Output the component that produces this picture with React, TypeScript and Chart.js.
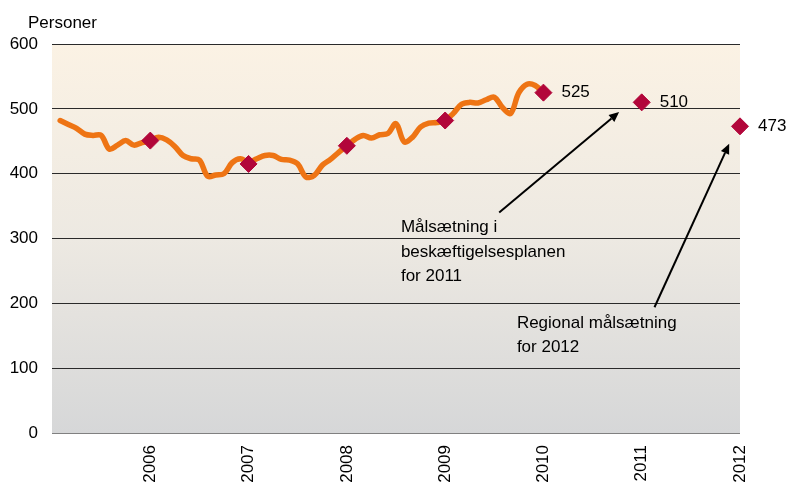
import React, { useEffect, useRef } from 'react';
import { Chart, registerables } from 'chart.js';

Chart.register(...registerables);

// Monthly observations, month index counted from January 2005 (index / 12 added to 2005)
const monthIndex = [
  1, 2, 3, 4, 5, 6, 7, 8, 9, 10, 11, 12,
  13, 14, 15, 16, 17, 18, 19, 20, 21, 22, 23, 24,
  25, 26, 27, 28, 29, 30, 31, 32, 33, 34, 35, 36,
  37, 38, 39, 40, 41, 42, 43, 44, 45, 46, 47, 48,
  49, 50, 51, 52, 53, 54, 55, 56, 57, 58, 59, 60,
];
const personer = [
  482, 476, 470, 461, 459, 459, 438, 444, 451, 444, 448, 451,
  456, 452, 442, 428, 423, 421, 396, 398, 400, 417, 423, 418,
  423, 428, 428, 422, 421, 415, 395, 397, 413, 422, 433, 443,
  453, 459, 455, 460, 462, 477, 449, 456, 472, 478, 479, 482,
  493, 507, 510, 509, 514, 518, 502, 493, 525, 538, 536, 525,
];

const markerYears = [2006, 2007, 2008, 2009, 2010, 2011, 2012];
const markerValues = [451, 415, 443, 482, 525, 510, 473];
const labeledYears = [2010, 2011, 2012];
const labeledValues = [525, 510, 473];

const yTickValues = [0, 100, 200, 300, 400, 500, 600];
const xTickYears = [2006, 2007, 2008, 2009, 2010, 2011, 2012];

const yAxisTitle = 'Personer';
const note2011Lines = ['Målsætning i', 'beskæftigelsesplanen', 'for 2011'];
const note2011Anchor = [2008.55, 317];
const arrow2011 = [2009.55, 340, 2010.77, 495];
const note2012Lines = ['Regional målsætning', 'for 2012'];
const note2012Anchor = [2009.73, 169];
const arrow2012 = [2011.13, 194, 2011.89, 446];

const FONT = '"Liberation Sans", Arial, sans-serif';

function drawArrow(ctx: CanvasRenderingContext2D, x1: number, y1: number, x2: number, y2: number) {
  const ang = Math.atan2(y2 - y1, x2 - x1);
  const head = 10;
  const hw = 4.5;
  const bx = x2 - head * Math.cos(ang);
  const by = y2 - head * Math.sin(ang);
  ctx.beginPath();
  ctx.moveTo(x1, y1);
  ctx.lineTo(bx, by);
  ctx.lineWidth = 2;
  ctx.strokeStyle = '#000';
  ctx.stroke();
  ctx.beginPath();
  ctx.moveTo(x2, y2);
  ctx.lineTo(bx + hw * Math.sin(ang), by - hw * Math.cos(ang));
  ctx.lineTo(bx - hw * Math.sin(ang), by + hw * Math.cos(ang));
  ctx.closePath();
  ctx.fillStyle = '#000';
  ctx.fill();
}

const decorPlugin = {
  id: 'decor',
  beforeDraw(chart: any) {
    const { ctx, chartArea } = chart;
    const g = ctx.createLinearGradient(0, chartArea.top, 0, chartArea.bottom);
    g.addColorStop(0, '#FBF2E4');
    g.addColorStop(0.5, '#EDE9E2');
    g.addColorStop(1, '#D6D7D8');
    ctx.save();
    ctx.fillStyle = g;
    ctx.fillRect(chartArea.left, chartArea.top, chartArea.right - chartArea.left, chartArea.bottom - chartArea.top);
    ctx.restore();
  },
  afterDraw(chart: any) {
    const { ctx, chartArea } = chart;
    const x = chart.scales.x;
    const y = chart.scales.y;
    ctx.save();
    ctx.font = `17px ${FONT}`;
    ctx.fillStyle = '#000';
    ctx.textBaseline = 'middle';
    ctx.textAlign = 'left';
    ctx.fillText(yAxisTitle, chartArea.left - 24, chartArea.top - 21);

    labeledYears.forEach((yr, i) => {
      const px = x.getPixelForValue(yr);
      const py = y.getPixelForValue(labeledValues[i]);
      ctx.fillText(String(labeledValues[i]), px + 18, py);
    });

    const n1x = x.getPixelForValue(note2011Anchor[0]);
    const n1y = y.getPixelForValue(note2011Anchor[1]);
    note2011Lines.forEach((t, i) => ctx.fillText(t, n1x, n1y + i * 24.5));
    const n2x = x.getPixelForValue(note2012Anchor[0]);
    const n2y = y.getPixelForValue(note2012Anchor[1]);
    note2012Lines.forEach((t, i) => ctx.fillText(t, n2x, n2y + i * 24));

    drawArrow(ctx,
      x.getPixelForValue(arrow2011[0]), y.getPixelForValue(arrow2011[1]),
      x.getPixelForValue(arrow2011[2]), y.getPixelForValue(arrow2011[3]));
    drawArrow(ctx,
      x.getPixelForValue(arrow2012[0]), y.getPixelForValue(arrow2012[1]),
      x.getPixelForValue(arrow2012[2]), y.getPixelForValue(arrow2012[3]));
    ctx.restore();
  },
};

export default function App() {
  const ref = useRef<HTMLCanvasElement>(null);
  useEffect(() => {
    document.body.style.margin = '0';
    const canvas = ref.current;
    if (!canvas) return;
    const chart = new Chart(canvas, {
      type: 'line',
      data: {
        datasets: [
          {
            label: 'Mål',
            data: markerYears.map((yr, i) => ({ x: yr, y: markerValues[i] })),
            showLine: false,
            pointStyle: 'rectRot',
            pointRadius: 8.5,
            pointBorderWidth: 1,
            pointBackgroundColor: '#B2063A',
            pointBorderColor: '#B2063A',
            clip: false,
            order: 0,
          } as any,
          {
            label: 'Personer',
            data: monthIndex.map((m, i) => ({ x: 2005 + m / 12, y: personer[i] })),
            borderColor: '#EE7414',
            borderWidth: 5.5,
            borderCapStyle: 'round',
            borderJoinStyle: 'round',
            pointRadius: 0,
            tension: 0.35,
            fill: false,
            clip: false,
            order: 1,
          } as any,
        ],
      },
      options: {
        animation: false,
        responsive: false,
        events: [],
        layout: { padding: { top: 44, right: 46, left: 0, bottom: 0 } },
        plugins: { legend: { display: false }, tooltip: { enabled: false }, title: { display: false } },
        scales: {
          x: {
            type: 'linear',
            min: 2005,
            max: 2012,
            afterBuildTicks: (scale: any) => {
              scale.ticks = xTickYears.map((v) => ({ value: v }));
            },
            afterFit: (scale: any) => {
              scale.height = 49;
            },
            grid: { display: false, drawTicks: false },
            border: { display: false },
            ticks: {
              autoSkip: false,
              minRotation: 90,
              maxRotation: 90,
              padding: 12,
              color: '#000',
              font: { family: FONT, size: 17 },
              callback: (v: any) => String(v),
            },
          },
          y: {
            type: 'linear',
            min: 0,
            max: 600,
            afterBuildTicks: (scale: any) => {
              scale.ticks = yTickValues.map((v) => ({ value: v }));
            },
            afterFit: (scale: any) => {
              scale.width = 52;
            },
            grid: {
              drawTicks: false,
              color: (c: any) => (c.tick && c.tick.value === 0 ? '#808080' : '#2a2a2a'),
              lineWidth: 1,
            },
            border: { display: false },
            ticks: {
              padding: 14,
              color: '#000',
              font: { family: FONT, size: 17 },
              callback: (v: any) => String(v),
            },
          },
        },
      } as any,
      plugins: [decorPlugin],
    });
    return () => chart.destroy();
  }, []);
  return (
    <div style={{ width: 786, height: 482 }}>
      <canvas ref={ref} width={786} height={482} style={{ display: 'block' }} />
    </div>
  );
}
